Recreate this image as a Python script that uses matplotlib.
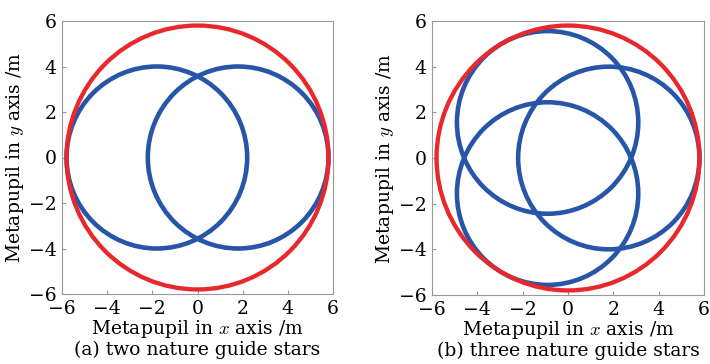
import numpy as np
import matplotlib

matplotlib.use("Agg")
import matplotlib.pyplot as plt
from matplotlib.patches import Circle

plt.rcParams["font.family"] = "DejaVu Serif"
plt.rcParams["mathtext.fontset"] = "cm"

# Metapupil geometry (m)
METAPUPIL_R = 5.8
FOOTPRINT_R = 4.0
STAR_OFFSET = 1.8

# Guide star directions (degrees) for each panel
angles_two = [0, 180]
angles_three = [0, 120, 240]

ticks = [-6, -4, -2, 0, 2, 4, 6]
captions = ["(a) two nature guide stars", "(b) three nature guide stars"]

RED = "#e8282c"
BLUE = "#2756a8"
GRAY = "#9a9a9a"


def tick_text(t):
    return "\u2212" + str(-t) if t < 0 else str(t)


fig = plt.figure(figsize=(7.1, 3.64), dpi=100)
rects = [
    [62 / 710, 70 / 364, 271 / 710, 273 / 364],
    [432 / 710, 69 / 364, 272 / 710, 274 / 364],
]

for rect, angles, caption in zip(rects, [angles_two, angles_three], captions):
    ax = fig.add_axes(rect)

    # metapupil boundary
    ax.add_patch(Circle((0, 0), METAPUPIL_R, fill=False, edgecolor=RED,
                        linewidth=3.1, zorder=3))

    # footprint of each guide star
    for a in angles:
        cx = STAR_OFFSET * np.cos(np.radians(a))
        cy = STAR_OFFSET * np.sin(np.radians(a))
        ax.add_patch(Circle((cx, cy), FOOTPRINT_R, fill=False, edgecolor=BLUE,
                            linewidth=3.3, zorder=2))

    ax.set_xlim(-6, 6)
    ax.set_ylim(-6, 6)
    ax.set_xticks(ticks)
    ax.set_yticks(ticks)
    ax.set_xticklabels([tick_text(t) for t in ticks])
    ax.set_yticklabels([tick_text(t) for t in ticks])
    ax.tick_params(direction="in", length=3, width=0.8, color=GRAY,
                   labelsize=13.5)
    ax.tick_params(axis="x", pad=4)
    ax.tick_params(axis="y", pad=4)
    for s in ax.spines.values():
        s.set_color(GRAY)
        s.set_linewidth(0.8)

    ax.set_xlabel(r"Metapupil in $x$ axis /m", fontsize=13.5, labelpad=0)
    ax.set_ylabel(r"Metapupil in $y$ axis /m", fontsize=13.5, labelpad=2)
    ax.text(0.5, -0.17, caption, transform=ax.transAxes, ha="center",
            va="top", fontsize=13.5)

fig.savefig("out.png", dpi=100)
